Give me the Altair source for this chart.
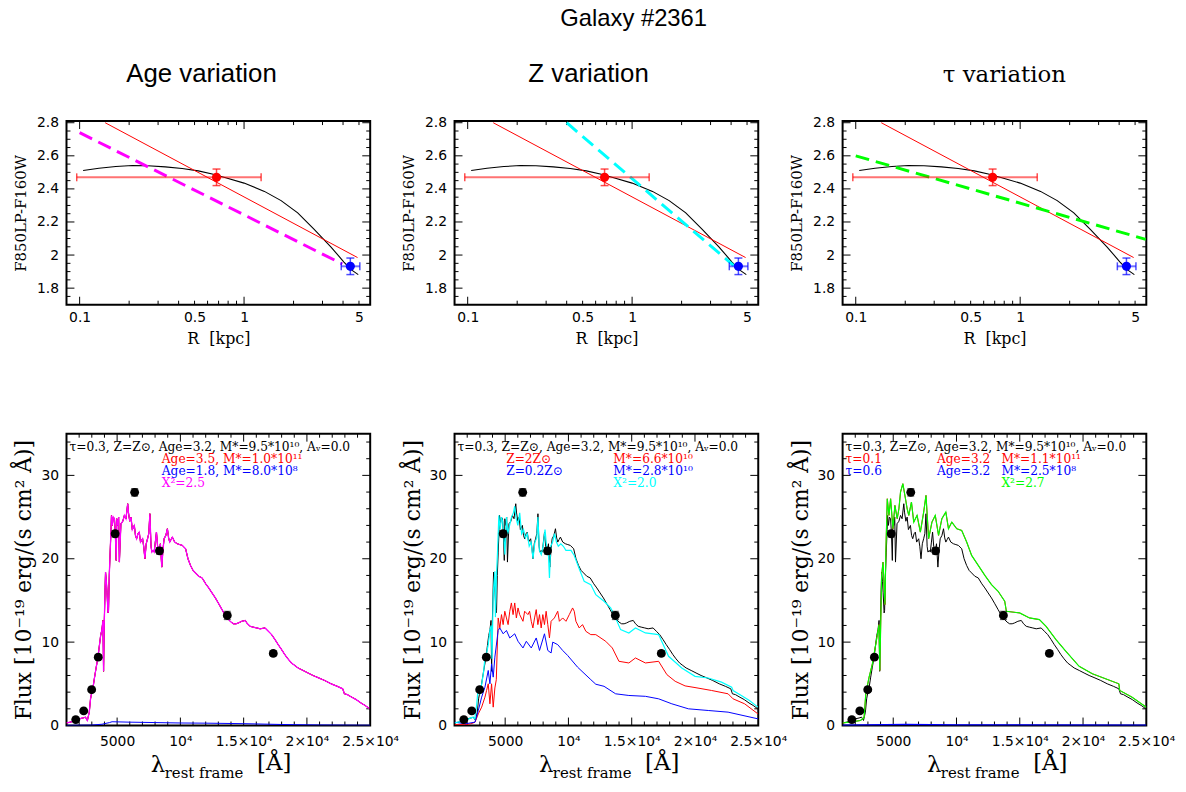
import altair as alt
import pandas as pd

SERIF = "DejaVu Serif"
SANS = "DejaVu Sans"
TITLE_SANS = "Liberation Sans"

# ---------------------------------------------------------------- radial colour profile
R_PROFILE = [0.105, 0.131, 0.166, 0.209, 0.26, 0.332, 0.42, 0.527, 0.64, 0.764, 1.0,
             1.33, 1.68, 2.12, 2.67, 3.37, 4.05, 4.5, 4.95]
COL_PROFILE = [2.511, 2.525, 2.535, 2.541, 2.540, 2.533, 2.523, 2.509, 2.49, 2.469, 2.435,
               2.385, 2.329, 2.255, 2.155, 2.05, 1.958, 1.91, 1.882]

R_FIT = [0.143, 4.9]
COL_FIT = [2.80, 1.985]

R_AGE_MODEL = [0.1, 3.96]
COL_AGE_MODEL = [2.74, 1.946]
R_Z_MODEL = [0.40, 4.15]
COL_Z_MODEL = [2.80, 1.936]
R_TAU_MODEL = [0.1, 5.8]
COL_TAU_MODEL = [2.60, 2.095]

# measured inner / outer colours with their errors
R_INNER, COL_INNER, R_INNER_LO, R_INNER_HI, COL_INNER_ERR = 0.68, 2.47, 0.096, 1.27, 0.05
R_OUTER, COL_OUTER, R_OUTER_LO, R_OUTER_HI, COL_OUTER_ERR = 4.43, 1.932, 3.9, 5.06, 0.05

# ---------------------------------------------------------------- spectra
WAVE_BASE = [1000, 1300, 1700, 2000, 2300, 2500, 2650, 2800, 2900, 3000, 3100, 3220, 3350, 3480,
             3600, 3700, 3800, 3880, 3930, 3980, 4050, 4085, 4150, 4200, 4280, 4320, 4380, 4450,
             4520, 4555, 4620, 4700, 4790, 4860, 4930, 4975, 5050, 5120, 5180, 5300, 5450, 5575,
             5700, 5836, 5900, 6000, 6100, 6200, 6360, 6450, 6540, 6650, 6750, 6850, 7013, 7100,
             7196, 7300, 7405, 7500, 7590, 7680, 7745, 7850, 7930, 8020, 8110, 8200, 8320, 8420,
             8530, 8620, 8712, 8850, 8975, 9070, 9157, 9260, 9366, 9550, 9758, 9950, 10150, 10412,
             10600, 10800, 11000, 11196, 11450, 11720, 12000, 12240, 12500, 12765, 13030, 13290,
             13550, 13810, 14000, 14200, 14400, 14590, 14850, 15120, 15300, 15510, 15750, 16030,
             16300, 16690, 16950, 17210, 17480, 17730, 18000, 18255, 18500, 18780, 19040, 19300,
             19700, 20085, 20480, 20870, 21400, 21915, 22400, 22830, 22960, 23200, 23480, 23900,
             24270, 24600, 24920]
FLUX_BASE = [0.3, 0.4, 0.6, 0.8, 0.9, 1.0, 0.6, 1.6, 3.2, 4.0, 4.6, 5.8, 7.0, 8.1,
             9.6, 10.8, 11.5, 12.6, 6.5, 12.0, 16.5, 18.4, 17.3, 16.0, 13.5, 13.8, 18.0, 20.8,
             23.5, 25.2, 24.0, 25.0, 24.8, 23.0, 19.8, 24.8, 24.0, 25.0, 19.6, 24.2, 24.5, 25.2,
             24.8, 26.6, 25.5, 24.5, 25.0, 23.5, 24.0, 22.8, 22.4, 23.0, 23.2, 22.0, 22.4, 21.5,
             20.0, 21.8, 22.4, 23.0, 25.4, 21.5, 20.8, 21.0, 20.8, 22.0, 23.2, 21.5, 20.8, 21.8,
             19.0, 21.0, 22.4, 22.8, 23.6, 22.5, 22.0, 22.3, 22.6, 22.0, 21.8, 21.7, 21.6, 21.2,
             20.0, 19.2, 18.6, 18.3, 17.9, 17.7, 17.0, 16.5, 15.9, 15.3, 14.6, 13.9,
             13.2, 12.7, 12.4, 12.2, 12.2, 12.3, 12.5, 12.6, 12.2, 11.9, 11.8, 11.7,
             11.6, 11.7, 11.3, 10.9, 10.3, 9.7, 9.1, 8.5, 8.0, 7.5, 7.2, 6.9,
             6.6, 6.3, 6.0, 5.75, 5.4, 5.0, 4.7, 4.4, 3.8, 3.7, 3.45, 3.1,
             2.7, 2.4, 2.05]

WAVE_Z_FIT = [1000, 1500, 2000, 2400, 2600, 2750, 2850, 3000, 3150, 3300, 3400, 3550, 3663, 3800,
              3900, 3960, 4055, 4186, 4230, 4300, 4395, 4500, 4600, 4700, 4800, 4900, 4980, 5100,
              5200, 5350, 5500, 5650, 5755, 5850, 6000, 6150, 6300, 6450, 6600, 6750, 6900, 7050,
              7200, 7350, 7500, 7590, 7700, 7850, 8000, 8150, 8300, 8420, 8500, 8600, 8750, 8900,
              9050, 9200, 9400, 9600, 9800, 10000, 10200, 10460, 10852, 11244, 11767, 12161,
              12812, 13335, 13729, 14122, 14775, 15298, 16082, 17127, 17912, 18957, 20003, 21049,
              22094, 22900, 23009, 23663, 24300, 24970]
FLUX_Z_FIT = [0.3, 0.5, 0.7, 1.0, 0.8, 2.5, 4.2, 3.8, 5.0, 6.5, 8.1, 8.8, 9.7, 11.5,
              12.0, 8.0, 15.7, 18.5, 13.0, 17.5, 20.8, 25.2, 23.5, 25.0, 24.5, 22.5, 20.5, 25.0,
              23.0, 24.0, 25.0, 25.5, 26.3, 25.0, 24.0, 25.5, 23.0, 23.5, 22.5, 23.0, 21.5, 22.0,
              20.0, 22.0, 22.5, 25.0, 21.0, 20.5, 21.5, 23.5, 21.0, 20.5, 17.7, 21.5, 22.0, 23.0,
              22.0, 21.5, 21.8, 21.5, 21.0, 21.0, 21.0, 20.4, 18.8, 17.3, 16.9, 15.7,
              14.9, 14.1, 12.9, 11.5, 11.1, 11.7, 11.1, 10.9, 8.3, 6.9, 5.9, 5.7,
              5.2, 4.6, 4.2, 3.6, 3.0, 2.2]

WAVE_Z_HIGH = [1000, 1800, 2300, 2618, 2879, 3141, 3402, 3532, 3663, 3794, 3925, 4055, 4186, 4300,
               4448, 4578, 4709, 4840, 4970, 5101, 5232, 5363, 5493, 5624, 5755, 5885, 6016, 6147,
               6408, 6539, 6800, 6931, 7062, 7192, 7323, 7454, 7584, 7715, 7846, 7976, 8107, 8238,
               8369, 8499, 8630, 8891, 9153, 9284, 9545, 9806, 10068, 10329, 10460, 10590, 10852,
               11113, 11375, 11767, 12161, 12945, 13468, 13991, 14775, 15298, 16082, 17127, 17781,
               18435, 19219, 20003, 21310, 22617, 23009, 23924, 24970]
FLUX_Z_HIGH = [0.1, 0.1, 0.2, 0.4, 1.4, 2.2, 3.4, 4.2, 5.0, 2.6, 5.0, 2.2, 4.5, 5.5,
               12.9, 11.7, 13.3, 12.1, 13.7, 12.9, 12.1, 13.7, 14.7, 13.3, 14.7, 12.9, 14.1, 13.3,
               12.5, 13.7, 13.3, 13.7, 12.5, 11.7, 12.9, 13.9, 12.1, 13.3, 11.7, 13.3, 12.1, 13.7,
               12.1, 10.5, 12.5, 12.9, 13.7, 12.5, 12.9, 12.5, 13.3, 14.1, 13.7, 12.5, 11.7,
               12.1, 11.3, 10.9, 10.9, 10.1, 9.3, 7.7, 7.5, 8.1, 7.5, 7.7, 6.1,
               5.3, 4.75, 4.55, 4.2, 3.8, 3.2, 2.6, 1.4]

WAVE_Z_LOW = [1000, 1834, 2618, 2879, 3141, 3402, 3663, 3794, 3925, 4055, 4186, 4448, 4578, 4840,
              5101, 5363, 5755, 6016, 6408, 6670, 7062, 7454, 7715, 8107, 8369, 8630, 8760, 9153,
              9545, 9937, 10721, 11767, 12161, 12812, 13729, 14775, 16082, 17127, 18173, 19480,
              21049, 22617, 24970]
FLUX_Z_LOW = [0.4, 0.2, 0.4, 1.8, 3.4, 4.6, 6.6, 5.0, 7.4, 5.8, 8.2, 11.4, 11.7, 11.0,
              11.4, 10.5, 11.0, 10.1, 9.3, 10.1, 9.3, 10.5, 9.0, 11.0, 9.0, 8.7, 10.0, 9.7,
              9.0, 8.4, 7.0, 5.5, 4.95, 4.7, 3.8, 3.6, 3.5, 3.2, 2.6, 2.0,
              1.8, 1.6, 0.8]

WAVE_TAU_FIT = [1000, 1500, 2000, 2400, 2600, 2701, 2832, 3094, 3355, 3616, 3747, 3878, 3940, 4087,
                4192, 4348, 4420, 4531, 4662, 4793, 4976, 5133, 5316, 5450, 5577, 5760, 5969, 6100,
                6230, 6440, 6623, 6884, 7145, 7407, 7590, 7799, 8060, 8322, 8583, 8844, 9158, 9367,
                9629, 10021, 10413, 10805, 11197, 11720, 12243, 12765, 13288, 13811, 13941, 14987,
                15771, 16555, 17078, 17863, 18647, 19692, 20738, 21783, 22829, 22900, 23875, 25000]
FLUX_TAU_FIT = [0.3, 0.4, 0.5, 0.6, 0.8, 1.0, 3.8, 5.8, 7.4, 9.7, 10.9, 12.1, 6.6, 18.0,
                19.6, 14.5, 21.0, 27.2, 25.2, 27.2, 23.6, 26.4, 24.8, 26.0, 28.0, 29.0, 27.2, 26.0,
                25.2, 26.8, 24.4, 25.2, 23.2, 25.6, 27.6, 22.4, 24.4, 25.2, 22.8, 24.8, 25.6, 23.6,
                24.4, 23.6, 23.4, 22.0, 20.4, 19.2, 18.0, 16.9, 16.1, 14.9, 13.7, 13.5,
                12.9, 12.7, 11.9, 10.3, 8.9, 7.1, 6.2, 5.6, 5.0, 4.2, 3.4, 2.2]

WAVE_AGE_YOUNG = [1000, 3000, 3800, 4400, 4600, 6000, 8000, 10000, 12000, 15000, 18000, 21000, 25000]
FLUX_AGE_YOUNG = [0.02, 0.05, 0.15, 0.35, 0.45, 0.4, 0.35, 0.3, 0.28, 0.22, 0.12, 0.06, 0.03]
WAVE_TAU_LONG = [1000, 4400, 6000, 10000, 25000]
FLUX_TAU_LONG = [0.02, 0.1, 0.12, 0.06, 0.02]

# broad-band photometry
PHOT_WAVE = [1732, 2360, 2987, 3510, 4843, 6386, 8346, 13706, 17340]
PHOT_FLUX = [0.71, 1.75, 4.29, 8.2, 23.0, 27.97, 20.95, 13.2, 8.65]
PHOT_ERR = [0.1, 0.15, 0.2, 0.3, 0.4, 0.45, 0.4, 0.5, 0.3]

# ---------------------------------------------------------------- axes
R_DOMAIN = [0.0832, 5.85]
COL_DOMAIN = [1.70, 2.81]
WAVE_DOMAIN = [1000, 25000]
FLUX_DOMAIN = [0, 35]

R_LABELS = [0.1, 0.5, 1, 5]
R_MAJOR = [0.1, 1]
R_MINOR = [0.2, 0.3, 0.4, 0.5, 0.6, 0.7, 0.8, 0.9, 2, 3, 4, 5]
COL_LABELS = [1.8, 2.0, 2.2, 2.4, 2.6, 2.8]
COL_MINOR = [1.75, 1.85, 1.9, 1.95, 2.05, 2.1, 2.15, 2.25, 2.3, 2.35, 2.45, 2.5, 2.55,
             2.65, 2.7, 2.75]
WAVE_LABELS = [5000, 10000, 15000, 20000, 25000]
WAVE_LABEL_TEXT = ["5000", "10⁴", "1.5×10⁴", "2×10⁴", "2.5×10⁴"]
WAVE_MAJOR = [5000, 10000, 15000, 20000]
WAVE_MINOR = [2000, 3000, 4000, 6000, 7000, 8000, 9000, 11000, 12000, 13000, 14000, 16000,
              17000, 18000, 19000, 21000, 22000, 23000, 24000]
FLUX_LABELS = [0, 10, 20, 30]
FLUX_MINOR = [2, 4, 6, 8, 12, 14, 16, 18, 22, 24, 26, 28, 32, 34]

PANEL_W = 306
TOP_H = 185
BOT_H = 294

r_scale = alt.Scale(type="log", domain=R_DOMAIN, nice=False)
c_scale = alt.Scale(domain=COL_DOMAIN, nice=False, zero=False)
w_scale = alt.Scale(domain=WAVE_DOMAIN, nice=False, zero=False)
f_scale = alt.Scale(domain=FLUX_DOMAIN, nice=False, zero=False)

AXIS_COMMON = dict(ticks=False, domain=False, grid=False, labelFont=SANS, labelFontSize=14,
                   labelColor="black", labelFlush=False, labelOverlap=False, labelBound=False,
                   titleFont=SERIF, titleFontWeight="normal", titleColor="black")

wave_label_expr = " : ".join(
    f"datum.value == {v} ? '{t}'" for v, t in zip(WAVE_LABELS, WAVE_LABEL_TEXT)) + " : ''"

top_x_axis = alt.Axis(values=R_LABELS, format="~g", title="R\u00a0\u00a0[kpc]",
                      titleFontSize=16, labelPadding=6, titlePadding=6, **AXIS_COMMON)
top_y_axis = alt.Axis(values=COL_LABELS, format="~g", title="F850LP-F160W",
                      titleFontSize=15, labelPadding=8, titlePadding=8, **AXIS_COMMON)
bot_x_axis = alt.Axis(values=WAVE_LABELS, labelExpr=wave_label_expr, title=None,
                      labelPadding=9, **AXIS_COMMON)
bot_y_axis = alt.Axis(values=FLUX_LABELS, format="d", title="Flux [10⁻¹⁹ erg/(s cm² Å)]",
                      titleFontSize=22, labelPadding=8, titlePadding=5, **AXIS_COMMON)

TOP_AXES = (r_scale, c_scale, top_x_axis, top_y_axis)
BOT_AXES = (w_scale, f_scale, bot_x_axis, bot_y_axis)


def curve(xs, ys, color, axes, width=1.0, dash=None):
    xscale, yscale, xaxis, yaxis = axes
    props = dict(color=color, strokeWidth=width, clip=True)
    if dash:
        props["strokeDash"] = dash
    return alt.Chart(pd.DataFrame({"x": xs, "y": ys})).mark_line(**props).encode(
        x=alt.X("x:Q", scale=xscale, axis=xaxis),
        y=alt.Y("y:Q", scale=yscale, axis=yaxis),
    )


def frame_ticks(axes, x_major, x_minor, y_major, y_minor, w, h):
    xscale, yscale, xaxis, yaxis = axes
    layers = []
    for vals, ln in ((x_major, 8), (x_minor, 4)):
        base = alt.Chart(pd.DataFrame({"v": vals})).mark_rule(color="black", strokeWidth=1)
        xe = alt.X("v:Q", scale=xscale, axis=xaxis)
        layers.append(base.encode(x=xe, y=alt.value(h), y2=alt.value(h - ln)))
        layers.append(base.encode(x=xe, y=alt.value(0), y2=alt.value(ln)))
    for vals, ln in ((y_major, 8), (y_minor, 4)):
        base = alt.Chart(pd.DataFrame({"v": vals})).mark_rule(color="black", strokeWidth=1)
        ye = alt.Y("v:Q", scale=yscale, axis=yaxis)
        layers.append(base.encode(y=ye, x=alt.value(0), x2=alt.value(ln)))
        layers.append(base.encode(y=ye, x=alt.value(w), x2=alt.value(w - ln)))
    return layers


def measured_colour(r, c, r_lo, r_hi, c_err, color):
    xscale, yscale, xaxis, yaxis = TOP_AXES
    df = pd.DataFrame({"r": [r], "c": [c], "rlo": [r_lo], "rhi": [r_hi],
                       "clo": [c - c_err], "chi": [c + c_err]})
    base = alt.Chart(df)
    X = lambda f: alt.X(f"{f}:Q", scale=xscale, axis=xaxis)
    Y = lambda f: alt.Y(f"{f}:Q", scale=yscale, axis=yaxis)
    cap = dict(color=color, opacity=0.7, size=8, thickness=1.5)
    return [
        base.mark_rule(color=color, opacity=0.55, strokeWidth=2).encode(x=X("rlo"), x2="rhi", y=Y("c")),
        base.mark_tick(orient="vertical", **cap).encode(x=X("rlo"), y=Y("c")),
        base.mark_tick(orient="vertical", **cap).encode(x=X("rhi"), y=Y("c")),
        base.mark_rule(color=color, opacity=0.7, strokeWidth=1.5).encode(x=X("r"), y=Y("clo"), y2="chi"),
        base.mark_tick(orient="horizontal", **cap).encode(x=X("r"), y=Y("clo")),
        base.mark_tick(orient="horizontal", **cap).encode(x=X("r"), y=Y("chi")),
        base.mark_circle(color=color, opacity=1, size=85).encode(x=X("r"), y=Y("c")),
    ]


def top_panel(title, font, size, dx, model_r, model_c, model_color):
    layers = [curve(R_PROFILE, COL_PROFILE, "black", TOP_AXES, 1.1)]
    layers += frame_ticks(TOP_AXES, R_MAJOR, R_MINOR, COL_LABELS, COL_MINOR, PANEL_W, TOP_H)
    layers.append(curve(R_FIT, COL_FIT, "#ff0000", TOP_AXES, 1.0))
    layers.append(curve(model_r, model_c, model_color, TOP_AXES, 3, dash=[14, 7]))
    layers += measured_colour(R_INNER, COL_INNER, R_INNER_LO, R_INNER_HI, COL_INNER_ERR, "#ff0000")
    layers += measured_colour(R_OUTER, COL_OUTER, R_OUTER_LO, R_OUTER_HI, COL_OUTER_ERR, "#0000ff")
    return alt.layer(*layers).properties(
        width=PANEL_W, height=TOP_H,
        title=alt.TitleParams(title, font=font, fontSize=size, fontWeight="normal",
                              color="black", anchor="middle", dx=dx, offset=29),
    )


def note(text, x, y, color, size=12.3, font=SERIF):
    return alt.Chart(pd.DataFrame({"t": [text]})).mark_text(
        font=font, fontSize=size, color=color, align="left", baseline="middle"
    ).encode(text="t:N", x=alt.value(x), y=alt.value(y))


def photometry():
    xscale, yscale, xaxis, yaxis = BOT_AXES
    df = pd.DataFrame({"w": PHOT_WAVE, "f": PHOT_FLUX,
                       "lo": [f - e for f, e in zip(PHOT_FLUX, PHOT_ERR)],
                       "hi": [f + e for f, e in zip(PHOT_FLUX, PHOT_ERR)]})
    base = alt.Chart(df)
    X = alt.X("w:Q", scale=xscale, axis=xaxis)
    Y = lambda f: alt.Y(f"{f}:Q", scale=yscale, axis=yaxis)
    cap = dict(color="black", orient="horizontal", size=7, thickness=1)
    return [
        base.mark_rule(color="black", strokeWidth=1).encode(x=X, y=Y("lo"), y2="hi"),
        base.mark_tick(**cap).encode(x=X, y=Y("lo")),
        base.mark_tick(**cap).encode(x=X, y=Y("hi")),
        base.mark_circle(color="black", opacity=1, size=80).encode(x=X, y=Y("f")),
    ]


HEADER = "τ=0.3, Z=Z⊙, Age=3.2, M*=9.5*10¹⁰, Aᵥ=0.0"


def bottom_panel(spectra, notes):
    layers = [curve(WAVE_BASE, FLUX_BASE, "black", BOT_AXES, 1.0)]
    layers += frame_ticks(BOT_AXES, WAVE_MAJOR, WAVE_MINOR, FLUX_LABELS, FLUX_MINOR,
                          PANEL_W, BOT_H)
    for xs, ys, color, width in spectra:
        layers.append(curve(xs, ys, color, BOT_AXES, width))
    layers += photometry()
    layers.append(note(HEADER, 3, 13, "black"))
    for text, x, y, color in notes:
        layers.append(note(text, x, y, color))
    # wavelength axis title with subscript
    layers.append(note("λ", 85, BOT_H + 40, "black", size=23))
    layers.append(note("rest frame", 99, BOT_H + 48, "black", size=15))
    layers.append(note("[Å]", 192, BOT_H + 38, "black", size=23))
    return alt.layer(*layers).properties(width=PANEL_W, height=BOT_H)


p_age = top_panel("Age variation", TITLE_SANS, 26, -17, R_AGE_MODEL, COL_AGE_MODEL, "#ff00ff")
p_z = top_panel("Z variation", TITLE_SANS, 26, -18, R_Z_MODEL, COL_Z_MODEL, "#00ffff")
p_tau = top_panel("τ variation", SERIF, 23, 10, R_TAU_MODEL, COL_TAU_MODEL, "#00ff00")

s_age = bottom_panel(
    [(WAVE_BASE, FLUX_BASE, "#ff0000", 1.0),
     (WAVE_AGE_YOUNG, FLUX_AGE_YOUNG, "#0000ff", 1.0),
     (WAVE_BASE, FLUX_BASE, "#ff00ff", 1.3)],
    [("Age=3.5,  M*=1.0*10¹¹", 96, 26, "#ff0000"),
     ("Age=1.8,  M*=8.0*10⁸", 96, 38, "#0000ff"),
     ("X²=2.5", 96, 50, "#ff00ff")],
)
s_z = bottom_panel(
    [(WAVE_Z_HIGH, FLUX_Z_HIGH, "#ff0000", 1.0),
     (WAVE_Z_LOW, FLUX_Z_LOW, "#0000ff", 1.0),
     (WAVE_Z_FIT, FLUX_Z_FIT, "#00ffff", 1.2)],
    [("Z=2Z⊙", 52, 26, "#ff0000"), ("M*=6.6*10¹⁰", 160, 26, "#ff0000"),
     ("Z=0.2Z⊙", 52, 38, "#0000ff"), ("M*=2.8*10¹⁰", 160, 38, "#0000ff"),
     ("X²=2.0", 160, 50, "#00ffff")],
)
s_tau = bottom_panel(
    [(WAVE_TAU_FIT, FLUX_TAU_FIT, "#ff0000", 1.0),
     (WAVE_TAU_LONG, FLUX_TAU_LONG, "#0000ff", 1.5),
     (WAVE_TAU_FIT, FLUX_TAU_FIT, "#00ff00", 1.2)],
    [("τ=0.1", 3, 26, "#ff0000"), ("Age=3.2", 95, 26, "#ff0000"), ("M*=1.1*10¹¹", 160, 26, "#ff0000"),
     ("τ=0.6", 3, 38, "#0000ff"), ("Age=3.2", 95, 38, "#0000ff"), ("M*=2.5*10⁸", 160, 38, "#0000ff"),
     ("X²=2.7", 160, 50, "#00ff00")],
)

chart = alt.concat(
    p_age, p_z, p_tau, s_age, s_z, s_tau,
    columns=3, spacing={"row": 130, "column": 85}, bounds="flush",
).properties(
    title=alt.TitleParams("Galaxy #2361", font=TITLE_SANS, fontSize=24, fontWeight="normal",
                          color="black", anchor="middle", dx=40, offset=29),
    padding={"left": 12, "top": 4, "right": 10, "bottom": 5},
    background="white",
).configure_view(stroke="black", strokeWidth=2)

chart.save("out.html", embed_options={"renderer": "svg", "actions": False})
